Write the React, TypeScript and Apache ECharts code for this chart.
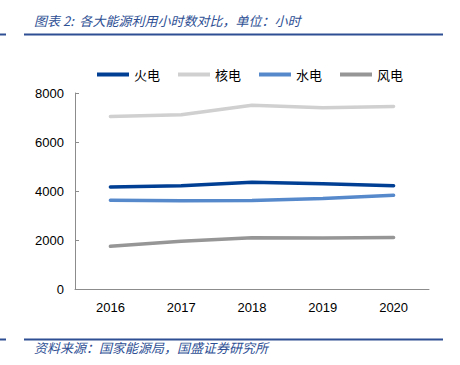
import React, { useEffect, useRef } from "react";
import * as echarts from "echarts";

const years = ["2016", "2017", "2018", "2019", "2020"];
const thermal = [4165, 4219, 4361, 4293, 4216];
const nuclear = [7042, 7108, 7499, 7394, 7453];
const hydro = [3619, 3597, 3613, 3697, 3827];
const wind = [1742, 1948, 2095, 2082, 2097];
const seriesNames = ["火电", "核电", "水电", "风电"];
const colors = ["#003f94", "#d0d0d0", "#5689cc", "#969696"];

export default function App() {
  const ref = useRef<HTMLDivElement>(null);
  useEffect(() => {
    const chart = echarts.init(ref.current!, null, { renderer: "svg" });
    const dataSets = [thermal, nuclear, hydro, wind];
    const blue = "#2e4f94";
    chart.setOption({
      animation: false,
      backgroundColor: "#fff",
      grid: { left: 75, right: 31, top: 93, bottom: 76 },
      legend: {
        left: 92,
        top: 63,
        icon: "rect",
        itemWidth: 32,
        itemHeight: 4,
        itemGap: 18,
        textStyle: { fontSize: 13, color: "#000", fontFamily: "Noto Sans CJK SC" },
        data: seriesNames,
      },
      xAxis: {
        type: "category",
        data: years,
        boundaryGap: true,
        axisLine: { lineStyle: { color: "#8c8c8c", width: 1 } },
        axisTick: { inside: true, length: 4, lineStyle: { color: "#bfbfbf" } },
        axisLabel: { fontSize: 13, color: "#000", margin: 12, fontFamily: "Liberation Sans" },
      },
      yAxis: {
        type: "value",
        min: 0,
        max: 8000,
        interval: 2000,
        axisLine: { show: true, lineStyle: { color: "#8c8c8c", width: 1 } },
        axisTick: { show: true, inside: true, length: 4, lineStyle: { color: "#8c8c8c" } },
        splitLine: { show: false },
        axisLabel: {
          fontSize: 13,
          color: "#000",
          margin: 11,
          fontFamily: "Liberation Sans",
          formatter: (v: number) => String(v),
        },
      },
      series: seriesNames.map((n, i) => ({
        name: n,
        type: "line",
        data: dataSets[i],
        symbol: "none",
        color: colors[i],
        lineStyle: { width: 3.5, color: colors[i], cap: "round" },
      })),
      graphic: [
        {
          type: "text",
          left: 34,
          top: 14,
          style: {
            text: "图表 2:  各大能源利用小时数对比，单位：小时",
            fontSize: 13,
            fontStyle: "italic",
            fontFamily: "Noto Sans CJK SC",
            fill: blue,
          },
        },
        { type: "line", shape: { x1: 24, y1: 34.5, x2: 443, y2: 34.5 }, style: { stroke: blue, lineWidth: 2 } },
        { type: "line", shape: { x1: 0, y1: 34.5, x2: 6, y2: 34.5 }, style: { stroke: blue, lineWidth: 2 } },
        { type: "line", shape: { x1: 24, y1: 339.5, x2: 443, y2: 339.5 }, style: { stroke: blue, lineWidth: 2 } },
        { type: "line", shape: { x1: 0, y1: 339.5, x2: 6, y2: 339.5 }, style: { stroke: blue, lineWidth: 2 } },
        {
          type: "text",
          left: 34,
          top: 341,
          style: {
            text: "资料来源：国家能源局，国盛证券研究所",
            fontSize: 13,
            fontStyle: "italic",
            fontFamily: "Noto Sans CJK SC",
            fill: blue,
          },
        },
      ],
    });
    return () => chart.dispose();
  }, []);
  return <div ref={ref} style={{ width: 460, height: 365, position: "absolute", left: 0, top: 0 }} />;
}
